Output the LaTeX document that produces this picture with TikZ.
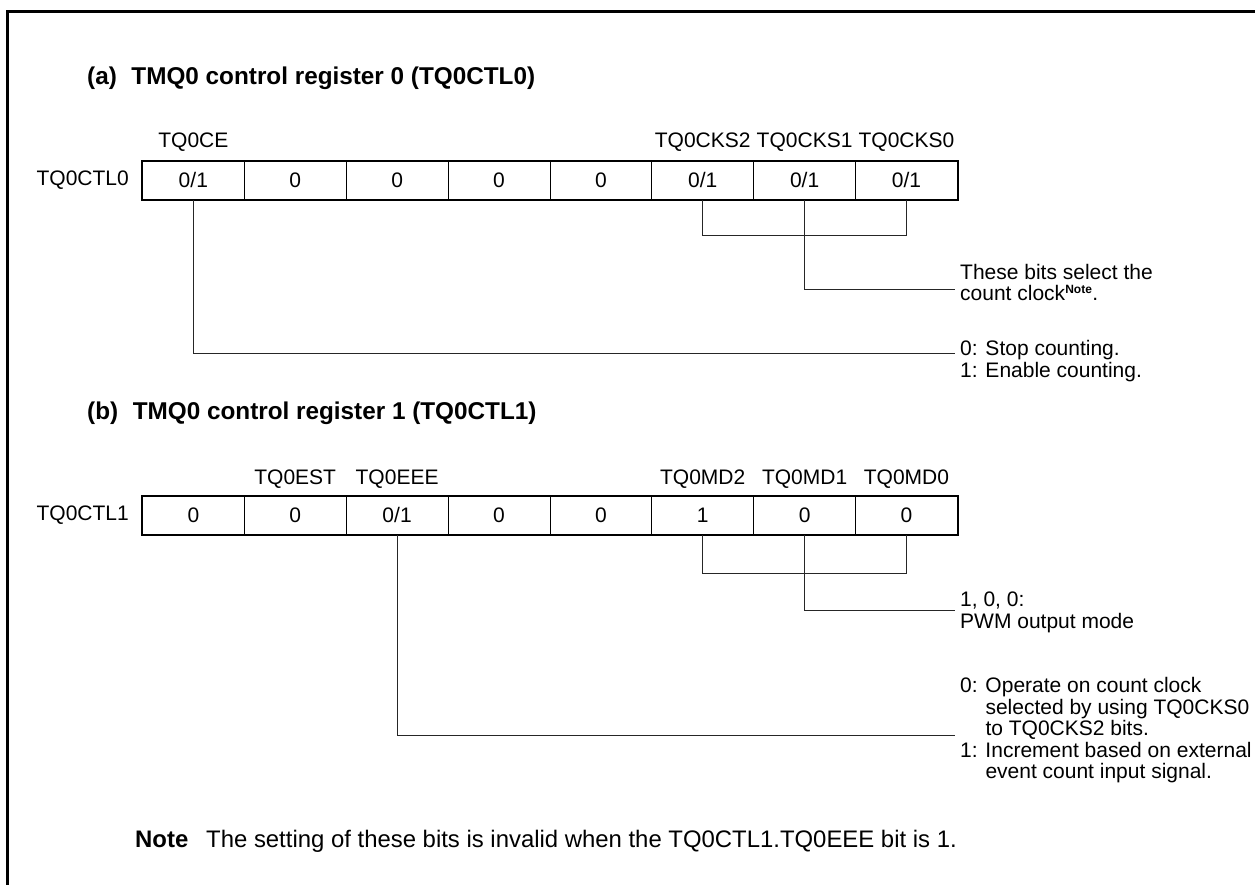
\documentclass[tikz,border=0pt]{standalone}
\usepackage{fontspec}
\setmainfont{Liberation Sans}
\begin{document}
\begin{tikzpicture}[x=1pt,y=-1pt,
  every node/.style={inner sep=0pt, font=\fontsize{21}{21.5}\selectfont},
  cell/.style={draw, line width=0.8pt, minimum width=101.875pt, minimum height=38pt, anchor=north west},
  regbox/.style={line width=2.4pt},
  conn/.style={line width=1pt, draw=black!85},
  frameline/.style={line width=3pt},
  ttl/.style={anchor=base west, font=\fontsize{24.3}{26}\selectfont\bfseries},
  desc/.style={anchor=base west, align=left},
  bitname/.style={anchor=base},
  regname/.style={anchor=east},
  notetext/.style={anchor=base west, font=\fontsize{23.9}{26}\selectfont}
]
\useasboundingbox (0,0) rectangle (1255,885);
% frame
\draw[frameline] (7,885) -- (7,12) -- (1255,12);

% ---------- (a) ----------
\node[ttl] (tA) at (87,85) {(a)\hspace{0.6em}TMQ0 control register 0 (TQ0CTL0)};
\foreach \v [count=\i] in {{0/1},0,0,0,0,{0/1},{0/1},{0/1}} {
  \node[cell] (a\i) at ({142+(\i-1)*101.875},161) {\v};
}
\draw[regbox] (a1.north west) rectangle (a8.south east);
\node[regname] (nA) at ([xshift=-13pt]a1.west) {TQ0CTL0};
\node[bitname] (ba1) at (a1.center |- 0,148) {TQ0CE};
\node[bitname] (ba6) at (a6.center |- 0,148) {TQ0CKS2};
\node[bitname] (ba7) at (a7.center |- 0,148) {TQ0CKS1};
\node[bitname] (ba8) at (a8.center |- 0,148) {TQ0CKS0};

% base anchor = baseline of last line
\node[desc] (dA1) at (960,301) {These bits select the\\count clock\textsuperscript{\fontsize{12}{12}\selectfont\bfseries Note}.};
\node[desc] (dA2) at (960,377) {0: Stop counting.\\1: Enable counting.};

\coordinate (brA) at (0,236);
\coordinate (eA1) at (955,289);
\coordinate (eA2) at (955,353);
\draw[conn] (a6.south) -- (a6.south |- brA) -- (a8.south |- brA) -- (a8.south);
\draw[conn] (a7.south) |- (eA1);
\draw[conn] (a1.south) |- (eA2);

% ---------- (b) ----------
\node[ttl] (tB) at (87,419) {(b)\hspace{0.6em}TMQ0 control register 1 (TQ0CTL1)};
\foreach \v [count=\i] in {0,0,{0/1},0,0,1,0,0} {
  \node[cell] (b\i) at ({142+(\i-1)*101.875},496) {\v};
}
\draw[regbox] (b1.north west) rectangle (b8.south east);
\node[regname] (nB) at ([xshift=-13pt]b1.west) {TQ0CTL1};
\node[bitname] (bb2) at (b2.center |- 0,484) {TQ0EST};
\node[bitname] (bb3) at (b3.center |- 0,484) {TQ0EEE};
\node[bitname] (bb6) at (b6.center |- 0,484) {TQ0MD2};
\node[bitname] (bb7) at (b7.center |- 0,484) {TQ0MD1};
\node[bitname] (bb8) at (b8.center |- 0,484) {TQ0MD0};

\node[desc] (dB1) at (960,628) {1, 0, 0:\\PWM output mode};
\node[desc] (dB2) at (960,778.5) {0: Operate on count clock\\\hphantom{0: }selected by using TQ0CKS0\\\hphantom{0: }to TQ0CKS2 bits.\\1: Increment based on external\\\hphantom{1: }event count input signal.};

\coordinate (brB) at (0,573);
\coordinate (eB1) at (955,610);
\coordinate (eB2) at (955,735);
\draw[conn] (b6.south) -- (b6.south |- brB) -- (b8.south |- brB) -- (b8.south);
\draw[conn] (b7.south) |- (eB1);
\draw[conn] (b3.south) |- (eB2);

% ---------- note ----------
\node[notetext, font=\fontsize{23.9}{26}\selectfont\bfseries] (nt) at (135,847) {Note};
\node[notetext] (ntx) at (206,847) {The setting of these bits is invalid when the TQ0CTL1.TQ0EEE bit is 1.};
\end{tikzpicture}
\end{document}
